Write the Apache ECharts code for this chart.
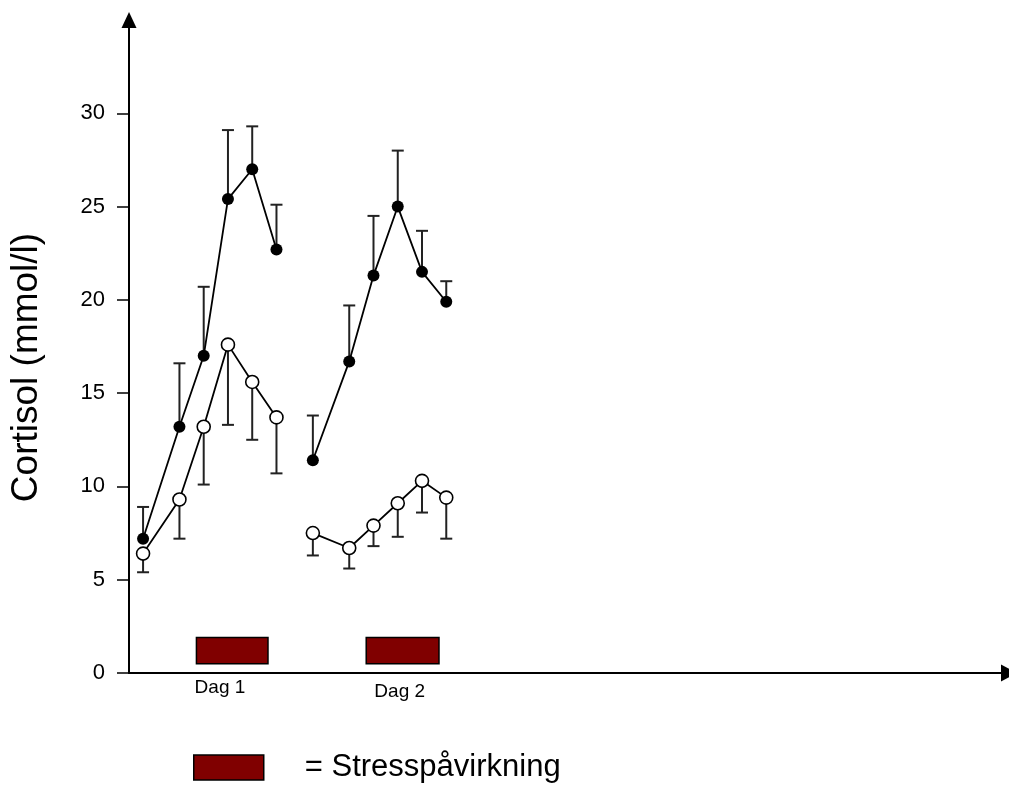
<!DOCTYPE html>
<html>
<head>
<meta charset="utf-8">
<script src="https://cdn.jsdelivr.net/npm/echarts@6/dist/echarts.min.js"></script>
<style>html,body{margin:0;padding:0;background:#fff}#c{width:1009px;height:785px}</style>
</head>
<body>
<div id="c"></div>
<script>
// sample times (arbitrary time units)
var xDay1 = [0, 1.5, 2.5, 3.5, 4.5, 5.5];
var xDay2 = [7, 8.5, 9.5, 10.5, 11.5, 12.5];
// stressed group (filled circles) with upper error bars
var filledDay1 = [7.2, 13.2, 17.0, 25.4, 27.0, 22.7];
var filledDay1Upper = [8.9, 16.6, 20.7, 29.1, 29.3, 25.1];
var filledDay2 = [11.4, 16.7, 21.3, 25.0, 21.5, 19.9];
var filledDay2Upper = [13.8, 19.7, 24.5, 28.0, 23.7, 21.0];
// control group (open circles) with lower error bars
var openDay1 = [6.4, 9.3, 13.2, 17.6, 15.6, 13.7];
var openDay1Lower = [5.4, 7.2, 10.1, 13.3, 12.5, 10.7];
var openDay2 = [7.5, 6.7, 7.9, 9.1, 10.3, 9.4];
var openDay2Lower = [6.3, 5.6, 6.8, 7.3, 8.6, 7.2];
// stress periods
var stressStart = [2.2, 9.2];
var stressEnd = [5.15, 12.2];
var stressLow = 0.5, stressHigh = 1.9;
var dayLabels = ['Dag 1', 'Dag 2'];
var dayLabelX = [3.17, 10.58];
var dayLabelY = [-0.8, -1.02];
var yTicks = [0, 5, 10, 15, 20, 25, 30];
var yTitle = 'Cortisol (mmol/l)';
var legendText = '= Stresspåvirkning';

var FONT = 'Liberation Sans, Arial, Helvetica, sans-serif';

function pairs(xs, ys) { return xs.map(function (x, i) { return [x, ys[i]]; }); }
function errData(xs, ys, ends) { return xs.map(function (x, i) { return [x, ys[i], ends[i]]; }); }

function errRender(params, api) {
  var p0 = api.coord([api.value(0), api.value(1)]);
  var p1 = api.coord([api.value(0), api.value(2)]);
  return {
    type: 'group',
    children: [
      { type: 'line', shape: { x1: p0[0], y1: p0[1], x2: p1[0], y2: p1[1] }, style: { stroke: '#222', lineWidth: 2 } },
      { type: 'line', shape: { x1: p1[0] - 6, y1: p1[1], x2: p1[0] + 6, y2: p1[1] }, style: { stroke: '#222', lineWidth: 2 } }
    ]
  };
}

var stressData = stressStart.map(function (s, i) { return [s, stressEnd[i], stressLow, stressHigh, dayLabelX[i], dayLabelY[i], i]; });

var lineCommon = {
  type: 'line',
  lineStyle: { color: '#000', width: 1.8 },
  z: 3,
  animation: false
};

var option = {
  animation: false,
  textStyle: { fontFamily: FONT },
  grid: { left: 129, right: -1, top: 20, bottom: 112, containLabel: false },
  legend: {
    data: ['Stresspåvirkning'],
    left: 193,
    top: 752,
    padding: 0,
    icon: 'rect',
    itemWidth: 70,
    itemHeight: 25,
    itemStyle: { color: '#800000', borderColor: '#000', borderWidth: 1.5 },
    formatter: function () { return legendText; },
    textStyle: { fontSize: 31, color: '#000', fontFamily: FONT, padding: [0, 0, 0, 36], lineHeight: 30 }
  },
  xAxis: {
    type: 'value',
    min: -0.58,
    max: 35.7,
    axisLine: { onZero: false, lineStyle: { color: '#000', width: 2 }, symbol: ['none', 'triangle'], symbolSize: [17, 16] },
    axisTick: { show: false },
    axisLabel: { show: false },
    splitLine: { show: false }
  },
  yAxis: {
    type: 'value',
    min: 0,
    max: 35,
    interval: 5,
    name: yTitle,
    nameLocation: 'middle',
    nameRotate: 90,
    nameGap: 84,
    nameTextStyle: { fontSize: 37, color: '#000', fontFamily: FONT, padding: [0, 42, 0, 0] },
    axisLine: { onZero: false, lineStyle: { color: '#000', width: 2 }, symbol: ['none', 'triangle'], symbolSize: [15, 16] },
    axisTick: { show: true, length: 12, lineStyle: { color: '#000', width: 1.5 }, customValues: yTicks },
    axisLabel: { fontSize: 22, color: '#000', margin: 24, fontFamily: FONT, customValues: yTicks },
    splitLine: { show: false }
  },
  series: [
    { type: 'custom', name: 'errF1', data: errData(xDay1, filledDay1, filledDay1Upper), renderItem: errRender, z: 2, encode: { x: 0, y: [1, 2] } },
    { type: 'custom', name: 'errF2', data: errData(xDay2, filledDay2, filledDay2Upper), renderItem: errRender, z: 2, encode: { x: 0, y: [1, 2] } },
    { type: 'custom', name: 'errO1', data: errData(xDay1, openDay1, openDay1Lower), renderItem: errRender, z: 2, encode: { x: 0, y: [1, 2] } },
    { type: 'custom', name: 'errO2', data: errData(xDay2, openDay2, openDay2Lower), renderItem: errRender, z: 2, encode: { x: 0, y: [1, 2] } },
    Object.assign({}, lineCommon, { name: 'filled1', data: pairs(xDay1, filledDay1), symbol: 'circle', symbolSize: 12, itemStyle: { color: '#000', borderColor: '#000', borderWidth: 0 } }),
    Object.assign({}, lineCommon, { name: 'filled2', data: pairs(xDay2, filledDay2), symbol: 'circle', symbolSize: 12, itemStyle: { color: '#000', borderColor: '#000', borderWidth: 0 } }),
    Object.assign({}, lineCommon, { name: 'open1', data: pairs(xDay1, openDay1), symbol: 'circle', symbolSize: 13, itemStyle: { color: '#fff', borderColor: '#000', borderWidth: 1.6 } }),
    Object.assign({}, lineCommon, { name: 'open2', data: pairs(xDay2, openDay2), symbol: 'circle', symbolSize: 13, itemStyle: { color: '#fff', borderColor: '#000', borderWidth: 1.6 } }),
    {
      type: 'custom',
      name: 'Stresspåvirkning',
      clip: false,
      z: 2,
      itemStyle: { color: '#800000', borderColor: '#000', borderWidth: 1.5 },
      encode: { x: [0, 1], y: [2, 3] },
      data: stressData,
      renderItem: function (params, api) {
        var a = api.coord([api.value(0), api.value(3)]);
        var b = api.coord([api.value(1), api.value(2)]);
        var t = api.coord([api.value(4), api.value(5)]);
        return {
          type: 'group',
          children: [
            { type: 'rect', shape: { x: a[0], y: a[1], width: b[0] - a[0], height: b[1] - a[1] }, style: { fill: '#800000', stroke: '#000', lineWidth: 1.5 } },
            { type: 'text', x: t[0], y: t[1], style: { text: dayLabels[api.value(6)], fill: '#000', font: '19px ' + FONT, textAlign: 'center', textVerticalAlign: 'middle' } }
          ]
        };
      }
    }
  ]
};

var chart = echarts.init(document.getElementById('c'), null, { renderer: 'canvas' });
chart.setOption(option);
</script>
</body>
</html>
